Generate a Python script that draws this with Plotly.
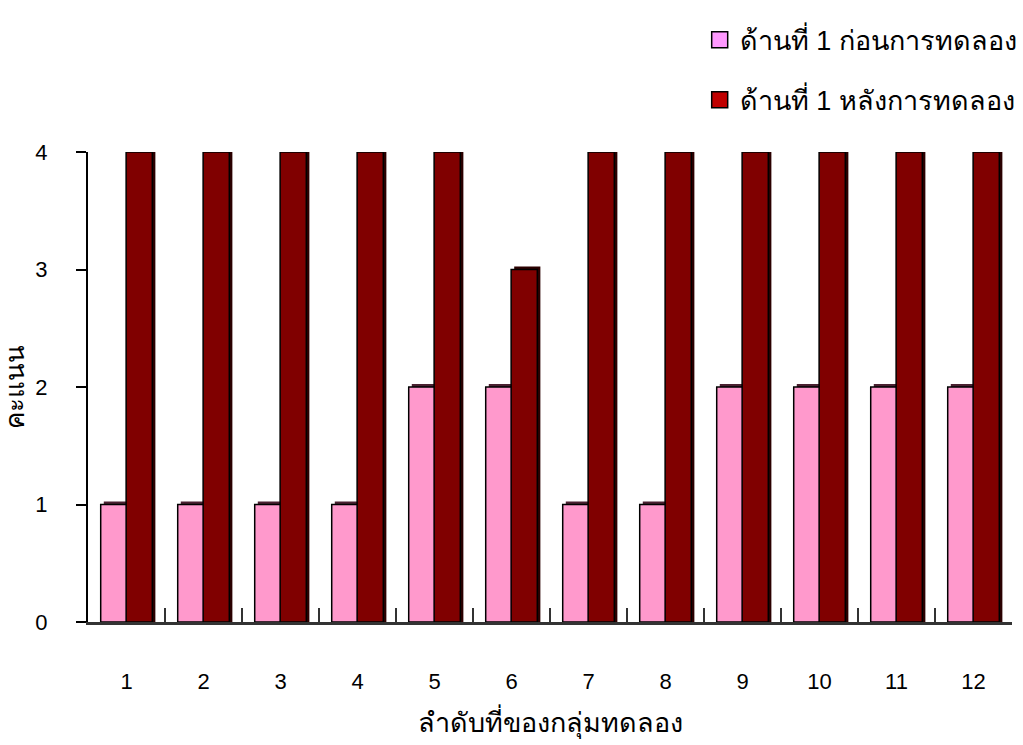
import plotly.graph_objects as go

groups = ["1", "2", "3", "4", "5", "6", "7", "8", "9", "10", "11", "12"]
before = [1, 1, 1, 1, 2, 2, 1, 1, 2, 2, 2, 2]
after = [4, 4, 4, 4, 4, 3, 4, 4, 4, 4, 4, 4]
name_before = "ด้านที่ 1 ก่อนการทดลอง"
name_after = "ด้านที่ 1 หลังการทดลอง"
x_title = "ลำดับที่ของกลุ่มทดลอง"
y_title = "คะแนน"
y_ticks = [0, 1, 2, 3, 4]

FONT = "Liberation Sans, Arial, sans-serif"
DX = 0.04      # 3D depth (category units)
DY = 0.026     # 3D depth (value units)
W = 0.34

fig = go.Figure()

def add_bar(vals, offset, color, shade):
    fig.add_trace(go.Bar(
        x=groups, y=[v + DY for v in vals], offset=offset + DX, width=W,
        marker=dict(color=shade, line=dict(width=0)),
        showlegend=False, hoverinfo="skip", cliponaxis=False))
    fig.add_trace(go.Bar(
        x=groups, y=vals, offset=offset, width=W,
        marker=dict(color=color, line=dict(color="black", width=1.5)),
        showlegend=False, cliponaxis=False))

add_bar(before, -0.335, "#FF99CC", "#4a2030")
add_bar(after, -0.005, "#800000", "#2a0000")

# legend entries
fig.add_trace(go.Scatter(x=[None], y=[None], mode="markers", name=name_before,
                         marker=dict(symbol="square", size=16, color="#FF99FF",
                                     line=dict(color="black", width=1.5)),
                         legendgroup="a"))
fig.add_trace(go.Scatter(x=[None], y=[None], mode="markers", name=name_after,
                         marker=dict(symbol="square", size=16, color="#C00000",
                                     line=dict(color="black", width=1.5)),
                         legendgroup="b"))

fig.update_layout(
    width=1023, height=745,
    barmode="overlay",
    plot_bgcolor="white", paper_bgcolor="white",
    font=dict(family=FONT, color="black"),
    margin=dict(l=88, r=11, t=152, b=123, autoexpand=False),
    legend=dict(x=0.662, y=1.29, xanchor="left", yanchor="top",
                font=dict(size=27, family=FONT), tracegroupgap=22,
                bgcolor="rgba(0,0,0,0)"),
    xaxis=dict(
        type="category", range=[-0.5, 11.5],
        showline=True, linecolor="#333333", linewidth=3,
        ticks="inside", tickson="boundaries", ticklen=14, tickwidth=1.5,
        tickcolor="#333333",
        tickfont=dict(size=22), ticklabelstandoff=38,
        showgrid=False, zeroline=False,
        title=dict(text=x_title, font=dict(size=27), standoff=20),
    ),
    yaxis=dict(
        range=[0, 4], tickvals=y_ticks,
        showline=True, linecolor="black", linewidth=2,
        ticks="outside", ticklen=10, tickwidth=1.5, tickcolor="black",
        tickfont=dict(size=22), ticklabelstandoff=24,
        showgrid=False, zeroline=False,
        title=dict(text=y_title, font=dict(size=26), standoff=10),
    ),
)

fig.write_html("out.html", config={"displayModeBar": False},
               post_script="document.body.style.margin='0';document.body.style.overflow='hidden';")
